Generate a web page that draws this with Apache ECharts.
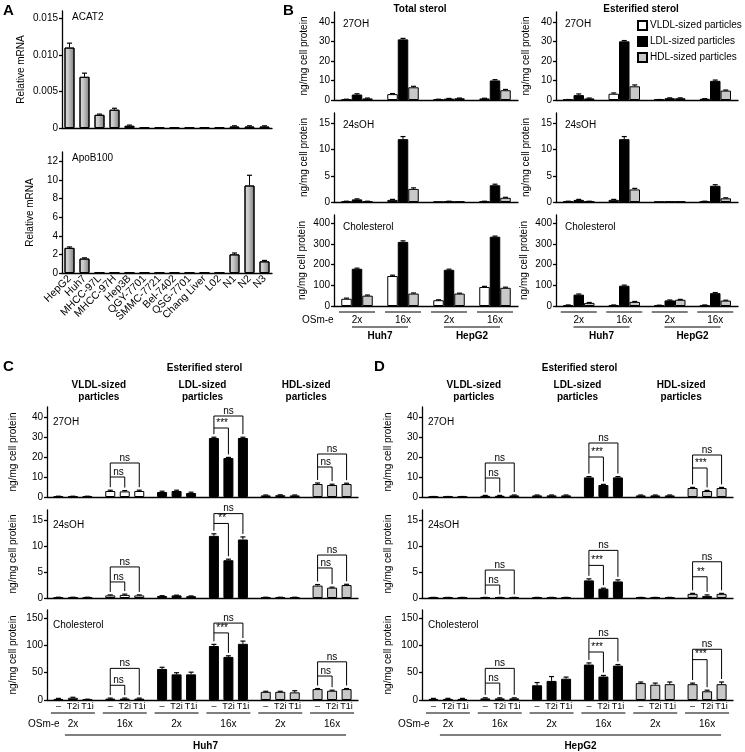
<!DOCTYPE html>
<html><head><meta charset="utf-8">
<script src="https://cdn.jsdelivr.net/npm/echarts@6/dist/echarts.min.js"></script>
<style>html,body{margin:0;padding:0;background:#fff}#c{width:745px;height:752px}</style>
</head><body><div id="c"></div>
<script>
// ---------------- DATA ----------------
// Panel A
const cellLines = ['HepG2','Huh7','MHCC-97L','MHCC-97H','Hep3B','QGY-7701','SMMC-7721','Bel-7402','QSG-7701','Chang Liver','L02','N1','N2','N3'];
const acat2    = [0.011,0.007,0.0018,0.0025,0.0003,0.0001,0.0001,0.0001,0.0001,0.0001,0.0001,0.0002,0.0002,0.0002];
const acat2Err = [0.0006,0.0005,0.0001,0.0002,0.0001,0,0,0,0,0,0,0.0001,0.0001,0.0001];
const apoB100    = [2.7,1.55,0.05,0.05,0.05,0.05,0.05,0.05,0.05,0.05,0.05,2.0,9.4,1.25];
const apoB100Err = [0.1,0.08,0,0,0,0,0,0,0,0,0,0.15,1.1,0.1];
const acat2Ticks = [0,0.005,0.01,0.015];
const apoB100Ticks = [0,2,4,6,8,10,12];

// Panel B (order: VLDL x4, LDL x4, HDL x4; clusters Huh7 2x, Huh7 16x, HepG2 2x, HepG2 16x)
const particles = ['VLDL-sized particles','LDL-sized particles','HDL-sized particles'];
const bClusters = ['2x','16x','2x','16x'];
const bCells = ['Huh7','HepG2'];
const totOH27     = [0.3,3.0,0.3,0.8,  2.8,31,0.7,10,   0.8,6.5,0.9,5];
const totOH27Err  = [0.1,0.3,0.1,0.1,  0.4,0.5,0.1,0.4, 0.2,0.5,0.1,0.4];
const totOH24     = [0.1,0.4,0.05,0.1, 0.5,12,0.1,3.2,  0.1,2.5,0.1,0.8];
const totOH24Err  = [0.05,0.1,0,0.05,  0.1,0.5,0.05,0.2, 0.05,0.2,0,0.1];
const totChol     = [35,145,28,92,     180,310,175,335, 50,60,60,88];
const totCholErr  = [3,4,2,3,          3,5,3,3,         3,3,2,3];
const estOH27     = [0.2,3.2,0.2,0.6,  2.5,30,0.9,9.8,  0.8,7,0.9,4.8];
const estOH27Err  = [0.05,0.4,0.05,0.1, 0.6,0.4,0.2,0.4, 0.2,0.7,0.2,0.3];
const estOH24     = [0.1,0.4,0.05,0.1, 0.4,12,0.1,3.1,  0.1,2.4,0.1,0.7];
const estOH24Err  = [0.05,0.1,0,0.05,  0.1,0.5,0,0.2,   0.05,0.2,0,0.1];
const estChol     = [4,4,3,4,          55,98,27,62,     15,20,30,26];
const estCholErr  = [1,1,1,1,          3,3,2,3,         2,2,2,2];

// Panels C and D (order: triplet VLDL2x, VLDL16x, LDL2x, LDL16x, HDL2x, HDL16x; each –, T2i, T1i)
const treatments = ['–','T2i','T1i'];
const groupNames = ['VLDL-sized','LDL-sized','HDL-sized'];
const doses = ['2x','16x'];
const cOH27    = [0.3,0.3,0.3, 3,2.8,3, 2.5,3,2, 29.5,19.5,29.5, 0.8,0.9,0.8, 6.5,6,6.5];
const cOH27Err = [0.1,0.1,0.1, 0.4,0.4,0.4, 0.4,0.4,0.4, 0.4,0.3,0.4, 0.2,0.2,0.2, 0.5,0.4,0.4];
const cOH24    = [0.1,0.1,0.1, 0.5,0.6,0.5, 0.4,0.5,0.35, 12,7.3,11.3, 0.1,0.1,0.1, 2.4,2,2.5];
const cOH24Err = [0.05,0.05,0.05, 0.1,0.15,0.1, 0.05,0.05,0.05, 0.4,0.2,0.5, 0.05,0.05,0.05, 0.2,0.1,0.15];
const cChol    = [2,4,1, 2.5,2.5,2.5, 57,47,47, 99,79,103, 15,15,14, 20,17,20];
const cCholErr = [1,1,0.5, 1,1,1, 3,3,4, 3,2,5, 1,1,3, 1,1,1];
const dOH27    = [0.2,0.2,0.2, 0.6,0.6,0.8, 0.8,0.8,0.8, 9.8,6,9.8, 0.8,0.8,0.8, 4.5,3,4.5];
const dOH27Err = [0.05,0.05,0.05, 0.2,0.2,0.2, 0.2,0.2,0.2, 0.4,0.3,0.4, 0.2,0.2,0.2, 0.3,0.3,0.3];
const dOH24    = [0.1,0.1,0.1, 0.1,0.1,0.1, 0.1,0.1,0.1, 3.4,1.8,3.2, 0.1,0.1,0.1, 0.8,0.4,0.8];
const dOH24Err = [0.02,0.02,0.02, 0.02,0.02,0.02, 0.02,0.02,0.02, 0.3,0.1,0.3, 0.02,0.02,0.02, 0.1,0.2,0.1];
const dChol    = [2,2,2, 3,3,3, 27,35,39, 65,43,63, 31,28,29, 29,16,29];
const dCholErr = [1,1,1, 1,1,1, 5,8,3, 3,2,2, 2,3,4, 2,2,4];
// significance brackets: [triplet, inner level, outer level]
const cOH27Br  = [[1,10,17],[3,34.5,40.5],[5,15,21.5]];
const cOH27Sig = [['ns','ns'],['***','ns'],['ns','ns']];
const cOH24Br  = [[1,3.1,6],[3,14.4,16.3],[5,5.8,8.3]];
const cOH24Sig = [['ns','ns'],['**','ns'],['ns','ns']];
const cCholBr  = [[1,27,58],[3,123,141],[5,44,70]];
const cCholSig = [['ns','ns'],['***','ns'],['ns','ns']];
const dOH27Br  = [[1,9.5,17],[3,20,27],[5,14.5,21]];
const dOH27Sig = [['ns','ns'],['***','ns'],['***','ns']];
const dOH24Br  = [[1,2.5,5.4],[3,6.3,9.2],[5,4.1,7]];
const dOH24Sig = [['ns','ns'],['***','ns'],['**','ns']];
const dCholBr  = [[1,31,58],[3,88,113],[5,74,93]];
const dCholSig = [['ns','ns'],['***','ns'],['***','ns']];
const ohTicks = [0,10,20,30,40];
const oh24Ticks = [0,5,10,15];
const bCholTicks = [0,100,200,300,400];
const cdCholTicks = [0,50,100,150];

// ---------------- BUILD ----------------
const FONT = '"Liberation Sans", Arial, Helvetica, sans-serif';
const AX = {color:'#000', width:1.3};
const pColors = ['#ffffff','#000000','#c8c8c8'];
const grid = [], xAxis = [], yAxis = [], series = [];

function addGrid(left, top, width, height, cats, max, ticks, opts) {
  opts = opts || {};
  const gi = grid.length;
  grid.push({left, top, width, height, outerBoundsMode:'none'});
  xAxis.push({type:'category', gridIndex:gi, data:cats,
    axisLine:{lineStyle:AX}, axisTick:{show:false},
    axisLabel: opts.xLabel ? {interval:0, rotate:45, fontSize:10.5, fontFamily:FONT, color:'#000', margin:4} : {show:false}});
  yAxis.push({type:'value', gridIndex:gi, min:0, max, splitLine:{show:false},
    axisLine:{show:true, lineStyle:AX},
    axisTick:{show:true, length:3, customValues:ticks, lineStyle:AX},
    axisLabel:{customValues:ticks, fontSize:10, fontFamily:FONT, color:'#000', margin:4, formatter:opts.fmt},
    name: opts.name || '', nameLocation:'middle', nameGap: opts.nameGap || 26,
    nameTextStyle:{fontSize:10, fontFamily:FONT, color:'#000'}});
  return gi;
}
function addBar(gi, name, data, barWidth, barGap, itemStyle) {
  series.push({type:'bar', name, xAxisIndex:gi, yAxisIndex:gi, data, barWidth, barGap, itemStyle, z:2, silent:true});
}
function addErr(gi, means, errs, k, n, spacing) {
  const off = (k - (n - 1) / 2) * spacing;
  series.push({type:'custom', xAxisIndex:gi, yAxisIndex:gi, z:5, silent:true,
    data: means.map((m, i) => [i, m, errs[i]]), encode:{x:0, y:1},
    renderItem(params, api) {
      const i = api.value(0), m = api.value(1), e = api.value(2);
      if (!e) return {type:'group', children:[]};
      const p0 = api.coord([i, m]), p1 = api.coord([i, m + e]);
      const x = p0[0] + off;
      return {type:'group', children:[
        {type:'line', shape:{x1:x, y1:p0[1], x2:x, y2:p1[1]}, style:{stroke:'#000', lineWidth:1}},
        {type:'line', shape:{x1:x - 2.5, y1:p1[1], x2:x + 2.5, y2:p1[1]}, style:{stroke:'#000', lineWidth:1.2}}
      ]};
    }});
}
function addBrackets(gi, brs, sig, vals, errs, spacing) {
  series.push({type:'custom', xAxisIndex:gi, yAxisIndex:gi, z:6, silent:true, clip:false,
    data: brs.map(b => [b[0], b[1], b[2]]), encode:{x:0, y:1},
    renderItem(params, api) {
      const idx = params.dataIndex, t = api.value(0);
      const c = api.coord([t, 0]);
      const xs = [c[0] - spacing, c[0], c[0] + spacing];
      const tops = [0,1,2].map(j => api.coord([t, vals[t*3+j] + errs[t*3+j]])[1] - 3);
      const yi = api.coord([t, api.value(1)])[1], yo = api.coord([t, api.value(2)])[1];
      const st = {stroke:'#000', lineWidth:1, fill:'none'};
      const ts = {textAlign:'center', textVerticalAlign:'bottom', font:'10px ' + FONT, fill:'#000'};
      return {type:'group', children:[
        {type:'polyline', shape:{points:[[xs[0],tops[0]],[xs[0],yo],[xs[2],yo],[xs[2],tops[2]]]}, style:st},
        {type:'polyline', shape:{points:[[xs[0],yi],[xs[1],yi],[xs[1],tops[1]]]}, style:st},
        {type:'text', style:Object.assign({text:sig[idx][0], x:(xs[0]+xs[1])/2 + 1, y:yi}, ts)},
        {type:'text', style:Object.assign({text:sig[idx][1], x:(xs[0]+xs[2])/2, y:yo}, ts)}
      ]};
    }});
}

// Panel A
const gradA = new echarts.graphic.LinearGradient(0,0,1,0,[{offset:0,color:'#dcdcdc'},{offset:0.4,color:'#c6c6c6'},{offset:1,color:'#7c7c7c'}]);
const gA1 = addGrid(62, 11, 210, 117, cellLines, 0.016, acat2Ticks, {name:'Relative mRNA', nameGap:36, fmt:v => v === 0 ? '0' : v.toFixed(3)});
addBar(gA1, 'ACAT2', acat2, 10, '0%', {color:gradA, borderColor:'#000', borderWidth:1});
addErr(gA1, acat2, acat2Err, 0, 1, 0);
const gA2 = addGrid(62, 152, 210, 121, cellLines, 13, apoB100Ticks, {name:'Relative mRNA', nameGap:27, xLabel:true});
addBar(gA2, 'ApoB100', apoB100, 10, '0%', {color:gradA, borderColor:'#000', borderWidth:1});
addErr(gA2, apoB100, apoB100Err, 0, 1, 0);

// Panel B
function bPanel(left, width, top, height, max, ticks, vals, errs, gap) {
  const gi = addGrid(left, top, width, height, bClusters, max, ticks, {name:'ng/mg cell protein', nameGap:gap});
  particles.forEach((p, k) => {
    const d = vals.slice(k*4, k*4+4), e = errs.slice(k*4, k*4+4);
    addBar(gi, p, d, 10.5, '0%', {color:pColors[k], borderColor:'#000', borderWidth:1});
    addErr(gi, d, e, k, 3, 10.5);
  });
  return gi;
}
const bRows = [[12,88,45,ohTicks],[113,89,17,oh24Ticks],[215,91,440,bCholTicks]];
const bL = [334,184], bR = [556,182];
const gB = [
  bPanel(bL[0],bL[1],bRows[0][0],bRows[0][1],bRows[0][2],bRows[0][3], totOH27, totOH27Err, 25),
  bPanel(bL[0],bL[1],bRows[1][0],bRows[1][1],bRows[1][2],bRows[1][3], totOH24, totOH24Err, 25),
  bPanel(bL[0],bL[1],bRows[2][0],bRows[2][1],bRows[2][2],bRows[2][3], totChol, totCholErr, 27),
  bPanel(bR[0],bR[1],bRows[0][0],bRows[0][1],bRows[0][2],bRows[0][3], estOH27, estOH27Err, 25),
  bPanel(bR[0],bR[1],bRows[1][0],bRows[1][1],bRows[1][2],bRows[1][3], estOH24, estOH24Err, 25),
  bPanel(bR[0],bR[1],bRows[2][0],bRows[2][1],bRows[2][2],bRows[2][3], estChol, estCholErr, 27)
];

// Panels C, D
const triplets = [];
groupNames.forEach(g => doses.forEach(d => triplets.push(g + ' ' + d)));
function cdPanel(left, top, height, max, ticks, vals, errs, brs, sig) {
  const gi = addGrid(left, top, 311, height, triplets, max, ticks, {name:'ng/mg cell protein', nameGap:29});
  treatments.forEach((t, k) => {
    const d = triplets.map((_, i) => ({value: vals[i*3+k], itemStyle:{color: pColors[Math.floor(i/2)]}}));
    addBar(gi, t, d, 10, '45%', {borderColor:'#000', borderWidth:1});
    addErr(gi, triplets.map((_, i) => vals[i*3+k]), triplets.map((_, i) => errs[i*3+k]), k, 3, 14.5);
  });
  addBrackets(gi, brs, sig, vals, errs, 14.5);
  return gi;
}
const cdRows = [[407,90,45,ohTicks],[510,88,17,oh24Ticks],[610,90,165,cdCholTicks]];
const gC = [
  cdPanel(47, cdRows[0][0], cdRows[0][1], cdRows[0][2], cdRows[0][3], cOH27, cOH27Err, cOH27Br, cOH27Sig),
  cdPanel(47, cdRows[1][0], cdRows[1][1], cdRows[1][2], cdRows[1][3], cOH24, cOH24Err, cOH24Br, cOH24Sig),
  cdPanel(47, cdRows[2][0], cdRows[2][1], cdRows[2][2], cdRows[2][3], cChol, cCholErr, cCholBr, cCholSig)
];
const gD = [
  cdPanel(422, cdRows[0][0], cdRows[0][1], cdRows[0][2], cdRows[0][3], dOH27, dOH27Err, dOH27Br, dOH27Sig),
  cdPanel(422, cdRows[1][0], cdRows[1][1], cdRows[1][2], cdRows[1][3], dOH24, dOH24Err, dOH24Br, dOH24Sig),
  cdPanel(422, cdRows[2][0], cdRows[2][1], cdRows[2][2], cdRows[2][3], dChol, dCholErr, dCholBr, dCholSig)
];

const chart = echarts.init(document.getElementById('c'), null, {renderer:'canvas'});
chart.setOption({
  animation:false,
  backgroundColor:'#fff',
  textStyle:{fontFamily:FONT},
  grid, xAxis, yAxis, series,
  legend:{data:particles, left:637, top:20, orient:'vertical', itemWidth:9, itemHeight:9, itemGap:5, icon:'rect',
    selectedMode:false, padding:0, textStyle:{fontSize:10, fontFamily:FONT, color:'#000', padding:[0,0,0,-2]}}
});

// ---------------- ANNOTATION TEXT ----------------
const G = [];
function txt(text, x, y, size, bold, align) {
  G.push({type:'text', silent:true, style:{text, x, y, font:(bold?'bold ':'') + size + 'px ' + FONT, fill:'#000', textAlign:align || 'left', textVerticalAlign:'middle'}});
}
function ln(x1, y1, x2, y2) {
  G.push({type:'line', silent:true, shape:{x1, y1, x2, y2}, style:{stroke:'#000', lineWidth:1}});
}
const px = (gi, c, v) => chart.convertToPixel({gridIndex:gi}, [c, v]);

txt('A', 3, 11, 15, true); txt('B', 283, 11, 15, true); txt('C', 3, 367, 15, true); txt('D', 374, 367, 15, true);
txt('ACAT2', 72, 17, 10); txt('ApoB100', 72, 158, 10);
txt('Total sterol', 420, 9, 10, true, 'center');
txt('Esterified sterol', 641, 9, 10, true, 'center');
const rowNames = ['27OH','24sOH','Cholesterol'];
bRows.forEach((r, i) => { txt(rowNames[i], bL[0] + 9, r[0] + 12, 10); txt(rowNames[i], bR[0] + 9, r[0] + 12, 10); });
cdRows.forEach((r, i) => { txt(rowNames[i], 53, r[0] + 15, 10); txt(rowNames[i], 428, r[0] + 15, 10); });

// B bottom labels
txt('OSm-e', 302, 320, 10);
[gB[2], gB[5]].forEach(gi => {
  const cx = bClusters.map((_, c) => px(gi, c, 0)[0]);
  cx.forEach((x, c) => { ln(x - 18, 312, x + 18, 312); txt(bClusters[c], x, 320, 10, false, 'center'); });
  bCells.forEach((name, j) => {
    const mid = (cx[j*2] + cx[j*2+1]) / 2;
    ln(mid - 28, 327, mid + 28, 327);
    txt(name, mid, 336, 10, true, 'center');
  });
});

// C, D headers and bottom labels
[[gC, 'Huh7', 28], [gD, 'HepG2', 398]].forEach(([gs, cell, osx]) => {
  const gi = gs[2];
  const cx = triplets.map((_, i) => px(gi, i, 0)[0]);
  const gl = grid[gs[0]];
  txt('Esterified sterol', gl.left + gl.width / 2 + 2, 368, 10, true, 'center');
  groupNames.forEach((g, j) => {
    const mid = (cx[j*2] + cx[j*2+1]) / 2;
    txt(g, mid, 385, 10, true, 'center');
    txt('particles', mid, 397, 10, true, 'center');
  });
  cx.forEach((x, i) => {
    treatments.forEach((t, k) => txt(t, x + (k - 1) * 14.5, 707, 9, false, 'center'));
    ln(x - 22, 713, x + 22, 713);
    txt(doses[i % 2], x, 724, 10, false, 'center');
  });
  txt('OSm-e', osx, 724, 10);
  ln(cx[0] - 8, 735, cx[5] + 14, 735);
  txt(cell, (cx[0] - 8 + cx[5] + 14) / 2, 746, 10, true, 'center');
});
chart.setOption({graphic:{elements:G}});
</script></body></html>
